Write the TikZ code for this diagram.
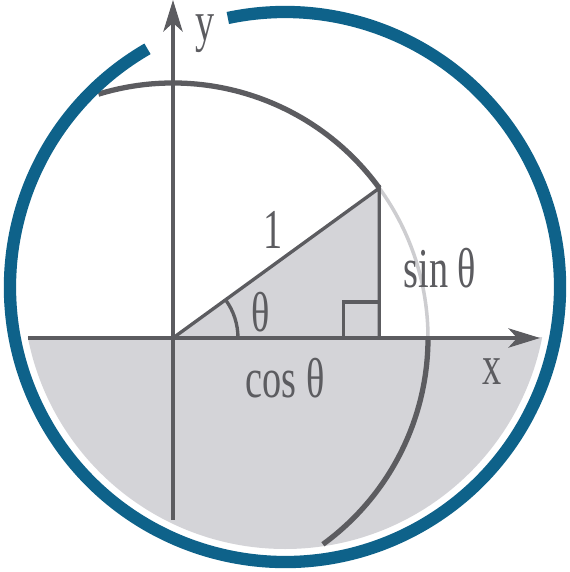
\documentclass[tikz,border=0pt]{standalone}
\usepackage{fontspec}
\setmainfont[FakeStretch=0.68]{Liberation Serif}
\usetikzlibrary{arrows.meta,calc}
\definecolor{ringblue}{RGB}{14,98,138}
\definecolor{linegray}{RGB}{92,92,96}
\definecolor{fillgray}{RGB}{212,212,216}
\definecolor{lightarc}{RGB}{205,205,208}

\begin{document}
\begin{tikzpicture}[>={Stealth[length=18pt,width=11pt,inset=5pt]},
        every node/.style={font=\fontsize{32}{36}\selectfont,text=linegray,inner sep=1pt},
        axis/.style={draw=linegray,line width=1.9pt},
        unitarc/.style={draw=linegray,line width=3pt},
        ring/.style={draw=ringblue,line width=7pt}]
      \useasboundingbox (-3.46,-4.68) rectangle (7.92,6.76);
      \coordinate (O) at (0,0);
      \coordinate (C) at (2.24,1.02);
      \coordinate (P) at (36:5.1);
      \coordinate (F) at (P |- O);
      \begin{scope}
        \clip (-3.46,0) rectangle (7.92,-4.68);
        \fill[fillgray] (C) circle (5.24);
      \end{scope}
      \fill[fillgray] (O) -- (P) -- (F) -- cycle;
      \draw[unitarc] (O) ++(107:5.1) arc (107:36:5.1);
      \draw[draw=lightarc,line width=2pt] (P) arc (36:0:5.1);
      \draw[unitarc] (O) ++(0:5.1) arc (0:-54:5.1);
      \draw[axis,->] (0,-3.64) -- (0,6.76);
      \draw[axis,->] (-2.9,0) -- (7.34,0);
      \draw[axis] (O) -- (P) -- (F);
      \draw[axis] ($(F)+(-0.72,0)$) |- ($(F)+(0,0.72)$);
      \draw[axis] (1.3,0) arc (0:36:1.3);
      \draw[ring] (C) ++(120:5.5) arc (120:462:5.5);
      \node (one) at (2.0,2.16) {1};
      \node (theta) at (1.76,0.52) {θ};
      \node (sin) at (5.34,1.4) {sin θ};
      \node (cos) at (2.24,-0.8) {cos θ};
      \node (xlab) at (6.38,-0.68) {x};
      \node[text height=1.1ex,text depth=0.5ex] (ylab) at (0.64,6.0) {y};
    \end{tikzpicture}
\end{document}
